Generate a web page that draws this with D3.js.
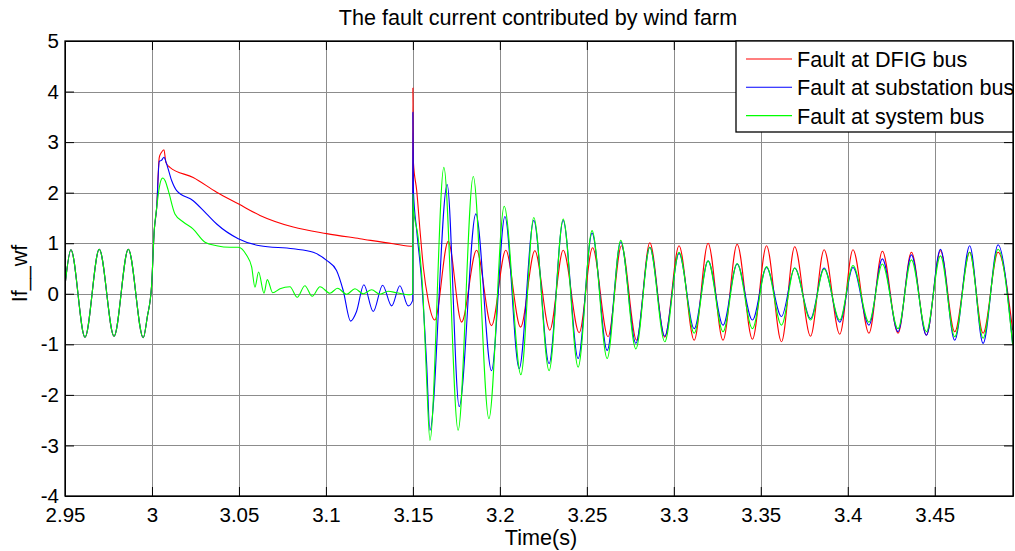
<!DOCTYPE html>
<html>
<head>
<meta charset="utf-8">
<script src="https://cdn.jsdelivr.net/npm/d3@7"></script>
<style>
body { margin: 0; background: #fff; }
svg { display: block; font-family: "Liberation Sans", Arial, sans-serif; }
.axis text { font-size: 20.5px; fill: #000; }
.axis path, .axis line { stroke: #000; }
</style>
</head>
<body>
<svg id="chart" width="1015" height="551"></svg>
<script>
// axis ticks
var xTicks = [2.95, 3, 3.05, 3.1, 3.15, 3.2, 3.25, 3.3, 3.35, 3.4, 3.45];
var yTicks = [-4, -3, -2, -1, 0, 1, 2, 3, 4, 5];
var seriesNames = ["Fault at DFIG bus", "Fault at substation bus", "Fault at system bus"];

// [time (s), current] (peaks, troughs, turning points)
var preFault = [[2.95,0.16],[2.9534,0.87],[2.9615,-0.86],[2.9697,0.88],[2.9782,-0.84],[2.9864,0.88],
  [2.9950,-0.87],[2.9973,-0.46],[2.9998,0.17],[3.0013,1.25],[3.0027,1.70]];

var dfigBus = preFault.concat([[3.0042,2.70],[3.0055,2.80],[3.0069,2.85],[3.0080,2.60],[3.0103,2.50],
  [3.0237,2.30],[3.0372,2.01],[3.0496,1.78],[3.0621,1.55],[3.0812,1.32],[3.1004,1.19],[3.1195,1.09],
  [3.1387,0.99],[3.1499,0.94],[3.1500,4.07],[3.1503,2.60],[3.1522,2.04],[3.1541,1.25],[3.1560,0.53],
  [3.1588,-0.13],[3.1626,-0.52],[3.1703,1.04],[3.1780,-0.56],[3.1866,0.86],[3.1952,-0.63],[3.2034,0.86],
  [3.2119,-0.66],[3.2201,0.85],[3.2287,-0.72],[3.2364,0.86],[3.2456,-0.77],[3.2533,0.91],[3.2622,-0.85],
  [3.2699,0.95],[3.2786,-0.92],[3.2862,1.01],[3.2948,-0.86],[3.3030,0.95],[3.3117,-0.92],[3.3197,1.00],
  [3.3283,-0.92],[3.3364,0.98],[3.3452,-0.90],[3.3533,0.95],[3.3619,-0.95],[3.3695,0.93],[3.3786,-0.84],
  [3.3864,0.87],[3.3954,-0.80],[3.4030,0.87],[3.4122,-0.78],[3.4199,0.84],[3.4289,-0.78],[3.4366,0.82],
  [3.4452,-0.82],[3.4533,0.85],[3.4615,-0.75],[3.4701,0.82],[3.4778,-0.78],[3.4864,0.82],[3.4948,-0.72]]);

var substationBus = preFault.concat([[3.0042,2.62],[3.0055,2.64],[3.0069,2.70],[3.0084,2.57],[3.0113,2.24],
  [3.0142,2.04],[3.0237,1.84],[3.0314,1.58],[3.0372,1.38],[3.0496,1.09],[3.0621,0.95],[3.0812,0.89],
  [3.0927,0.82],[3.1004,0.66],[3.1061,0.46],[3.1099,0.07],[3.1142,-0.54],[3.1176,-0.35],[3.1218,0.18],
  [3.1272,-0.35],[3.1326,0.17],[3.1378,-0.24],[3.1425,0.16],[3.1473,-0.24],[3.1499,-0.13],[3.1500,3.59],
  [3.1503,2.04],[3.1522,1.25],[3.1550,0.26],[3.1579,-1.38],[3.1598,-2.70],[3.1697,2.16],[3.1766,-2.23],
  [3.1862,1.58],[3.1952,-1.52],[3.2029,1.53],[3.2111,-1.48],[3.2195,1.45],[3.2283,-1.38],[3.2364,1.45],
  [3.2450,-1.28],[3.2530,1.20],[3.2617,-1.12],[3.2695,1.03],[3.2782,-0.98],[3.2862,0.92],[3.2948,-0.84],
  [3.3030,0.80],[3.3117,-0.69],[3.3197,0.65],[3.3283,-0.62],[3.3364,0.59],[3.3452,-0.52],[3.3533,0.52],
  [3.3619,-0.45],[3.3695,0.51],[3.3786,-0.49],[3.3864,0.51],[3.3954,-0.56],[3.4030,0.52],[3.4122,-0.62],
  [3.4199,0.69],[3.4289,-0.75],[3.4366,0.77],[3.4452,-0.82],[3.4533,0.88],[3.4615,-0.92],[3.4701,0.95],
  [3.4778,-0.98],[3.4864,0.97],[3.4948,-1.00]]);

var systemBus = preFault.concat([[3.0042,2.10],[3.0055,2.27],[3.0063,2.29],[3.0075,2.24],[3.0094,2.04],
  [3.0132,1.58],[3.0180,1.42],[3.0237,1.28],[3.0305,1.02],[3.0372,0.95],[3.0448,0.92],[3.0496,0.92],
  [3.0544,0.76],[3.0573,0.53],[3.0592,0.13],[3.0613,0.43],[3.0644,0.01],[3.0663,0.28],[3.0694,0.02],
  [3.0736,0.10],[3.0793,0.14],[3.0835,-0.07],[3.0879,0.16],[3.0921,-0.05],[3.0966,0.14],[3.1023,0.01],
  [3.1067,0.11],[3.1119,-0.01],[3.1167,0.10],[3.1214,0.00],[3.1263,0.08],[3.1310,-0.01],[3.1358,0.05],
  [3.1406,0.02],[3.1483,-0.02],[3.1499,0.00],[3.1500,1.98],[3.1503,1.71],[3.1530,1.12],[3.1559,-0.07],
  [3.1579,-1.71],[3.1598,-2.90],[3.1678,2.50],[3.1760,-2.70],[3.1847,2.32],[3.1937,-2.47],[3.2025,1.73],
  [3.2121,-1.60],[3.2195,1.51],[3.2283,-1.52],[3.2364,1.48],[3.2450,-1.45],[3.2530,1.25],[3.2617,-1.28],
  [3.2695,1.06],[3.2782,-1.09],[3.2862,0.92],[3.2948,-0.95],[3.3030,0.82],[3.3117,-0.78],[3.3197,0.65],
  [3.3283,-0.75],[3.3364,0.60],[3.3452,-0.69],[3.3533,0.54],[3.3619,-0.62],[3.3695,0.51],[3.3786,-0.52],
  [3.3864,0.49],[3.3954,-0.52],[3.4030,0.56],[3.4122,-0.56],[3.4199,0.59],[3.4289,-0.69],[3.4366,0.67],
  [3.4452,-0.75],[3.4533,0.75],[3.4615,-0.85],[3.4701,0.82],[3.4778,-0.88],[3.4864,0.88],[3.4948,-1.01]]);

var svg = d3.select("#chart");
var margin = {top: 41, right: 2, bottom: 55, left: 65};
var width = +svg.attr("width") - margin.left - margin.right;
var height = +svg.attr("height") - margin.top - margin.bottom;
var g = svg.append("g").attr("transform", "translate(" + margin.left + "," + margin.top + ")");

var x = d3.scaleLinear().domain([2.95, 3.495]).range([0, width]);
var y = d3.scaleLinear().domain([-4, 5]).range([height, 0]);
var z = d3.scaleOrdinal().domain(seriesNames).range(["#ff0000", "#0000ff", "#00ff00"]);

var fmt = function(d) { return String(+d.toFixed(2)); };

// grid
g.append("g").selectAll("line").data(xTicks).enter().append("line")
    .attr("x1", function(d) { return Math.round(x(d)) + 0.5; })
    .attr("x2", function(d) { return Math.round(x(d)) + 0.5; })
    .attr("y1", 0).attr("y2", height)
    .attr("stroke", "#8c8c8c");
g.append("g").selectAll("line").data(yTicks).enter().append("line")
    .attr("y1", function(d) { return Math.round(y(d)) + 0.5; })
    .attr("y2", function(d) { return Math.round(y(d)) + 0.5; })
    .attr("x1", 0).attr("x2", width)
    .attr("stroke", "#8c8c8c");

svg.append("defs").append("clipPath").attr("id", "clip")
  .append("rect").attr("width", width).attr("height", height);

var line = d3.line()
    .curve(d3.curveMonotoneX)
    .x(function(d) { return x(d[0]); })
    .y(function(d) { return y(d[1]); });

var series = [dfigBus, substationBus, systemBus];
g.append("g").attr("clip-path", "url(#clip)")
  .selectAll("path").data(series).enter().append("path")
    .attr("fill", "none")
    .attr("stroke", function(d, i) { return z(seriesNames[i]); })
    .attr("stroke-width", 1.1)
    .attr("d", line);

// axes, MATLAB style ticks pointing inward
g.append("g").attr("class", "axis")
    .attr("transform", "translate(0," + height + ")")
    .call(d3.axisBottom(x).tickValues(xTicks).tickSizeInner(-9).tickSizeOuter(0).tickPadding(11).tickFormat(fmt));
g.append("g").attr("class", "axis")
    .call(d3.axisTop(x).tickValues(xTicks).tickSizeInner(-9).tickSizeOuter(0).tickFormat(""));
g.append("g").attr("class", "axis")
    .call(d3.axisLeft(y).tickValues(yTicks).tickSizeInner(-9).tickSizeOuter(0).tickPadding(6).tickFormat(fmt));
g.append("g").attr("class", "axis")
    .attr("transform", "translate(" + width + ",0)")
    .call(d3.axisRight(y).tickValues(yTicks).tickSizeInner(-9).tickSizeOuter(0).tickFormat(""));

g.append("rect")
    .attr("width", width).attr("height", height)
    .attr("fill", "none").attr("stroke", "#000").attr("stroke-width", 1.3);

// labels
svg.append("text")
    .attr("x", margin.left + width / 2 - 1).attr("y", 25)
    .attr("text-anchor", "middle").attr("font-size", 21.6)
    .text("The fault current contributed by wind farm");
svg.append("text")
    .attr("x", margin.left + width / 2 + 2).attr("y", 545)
    .attr("text-anchor", "middle").attr("font-size", 21.6)
    .text("Time(s)");
svg.append("text")
    .attr("transform", "translate(27," + (margin.top + height / 2 + 5) + ") rotate(-90)")
    .attr("text-anchor", "middle").attr("font-size", 21.6)
    .text("If__wf");

// legend
var legend = g.append("g").attr("transform", "translate(" + (width - 277) + ",0)");
legend.append("rect")
    .attr("width", 277).attr("height", 91)
    .attr("fill", "#fff").attr("stroke", "#000").attr("stroke-width", 1.3);
var item = legend.selectAll(".item").data(seriesNames).enter().append("g")
    .attr("transform", function(d, i) { return "translate(0," + (26 + i * 28.3) + ")"; });
item.append("line")
    .attr("x1", 10).attr("x2", 56).attr("y1", -8).attr("y2", -8)
    .attr("stroke", z).attr("stroke-width", 1.1);
item.append("text")
    .attr("x", 61).attr("font-size", 21.6)
    .text(function(d) { return d; });
</script>
</body>
</html>
